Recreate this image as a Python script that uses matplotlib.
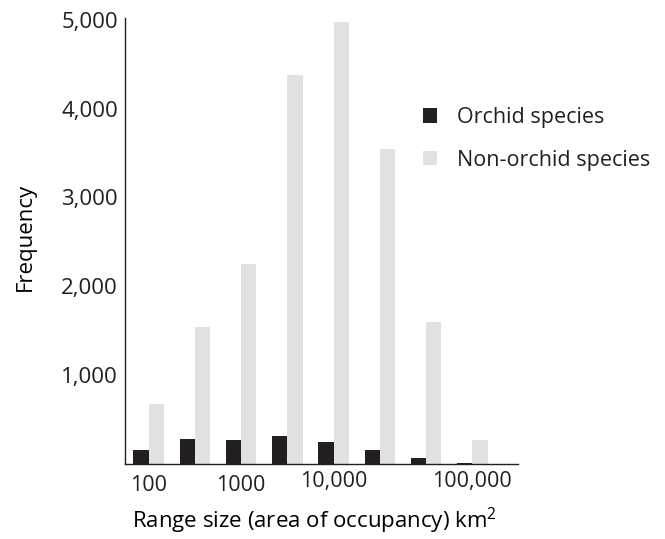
import matplotlib
matplotlib.use("Agg")
import numpy as np
import matplotlib.pyplot as plt
from matplotlib.transforms import ScaledTranslation

# Range size classes (8 groups)
groups = list(range(8))
orchid = [154, 278, 267, 316, 252, 154, 64, 10]
non_orchid = [673, 1545, 2251, 4379, 4972, 3548, 1601, 267]

xtick_pos = [0, 2, 4, 7]
xtick_labels = ["100", "1000", "10,000", "100,000"]
ytick_pos = [1000, 2000, 3000, 4000, 5000]
ytick_labels = ["1,000", "2,000", "3,000", "4,000", "5,000"]

BLACK = "#231f20"
GREY = "#e0e1e3"
FS = 15.5

plt.rcParams['font.family'] = ['Open Sans', 'DejaVu Sans']
plt.rcParams['font.size'] = FS
plt.rcParams['text.color'] = BLACK
plt.rcParams['mathtext.fontset'] = 'custom'
plt.rcParams['mathtext.rm'] = 'Open Sans'

fig = plt.figure(figsize=(6.65, 5.39), dpi=100)
ax = fig.add_axes([0.188, 0.139, 0.591, 0.828])

w = 0.33
x = np.array(groups)
ax.bar(x - w / 2, orchid, width=w, color=BLACK, label="Orchid species")
ax.bar(x + w / 2, non_orchid, width=w, color=GREY, label="Non-orchid species")

ax.set_xlim(-0.51, 7.99)
ax.set_ylim(0, 5022)

ax.spines['top'].set_visible(False)
ax.spines['right'].set_visible(False)
for s in ['left', 'bottom']:
    ax.spines[s].set_color(BLACK)
    ax.spines[s].set_linewidth(1.0)

ax.set_xticks(xtick_pos)
ax.set_xticklabels(xtick_labels)
ax.set_yticks(ytick_pos)
ax.set_yticklabels(ytick_labels)
ax.tick_params(axis='both', length=0, colors=BLACK, labelsize=FS)
ax.tick_params(axis='x', pad=8)
ax.tick_params(axis='y', pad=5, labelsize=16)

# the two larger labels sit a little higher in the original
for lbl in ax.get_xticklabels()[2:]:
    lbl.set_transform(lbl.get_transform() + ScaledTranslation(0, 4 / 100, fig.dpi_scale_trans))

ax.set_ylabel("Frequency", fontsize=16, va='center')
ax.yaxis.set_label_coords(-0.254, 0.509)
ax.set_xlabel(r"Range size (area of occupancy) km$^{\mathrm{2}}$", fontsize=16, va='center')
ax.xaxis.set_label_coords(0.481, -0.127)

ax.legend(loc='upper left', bbox_to_anchor=(423 / 665, 0.8015), bbox_transform=fig.transFigure,
          frameon=False, handlelength=0.65, handleheight=0.65, handletextpad=0.93,
          labelspacing=1.0, borderpad=0, borderaxespad=0, fontsize=FS)

fig.savefig("out.png", dpi=100)
